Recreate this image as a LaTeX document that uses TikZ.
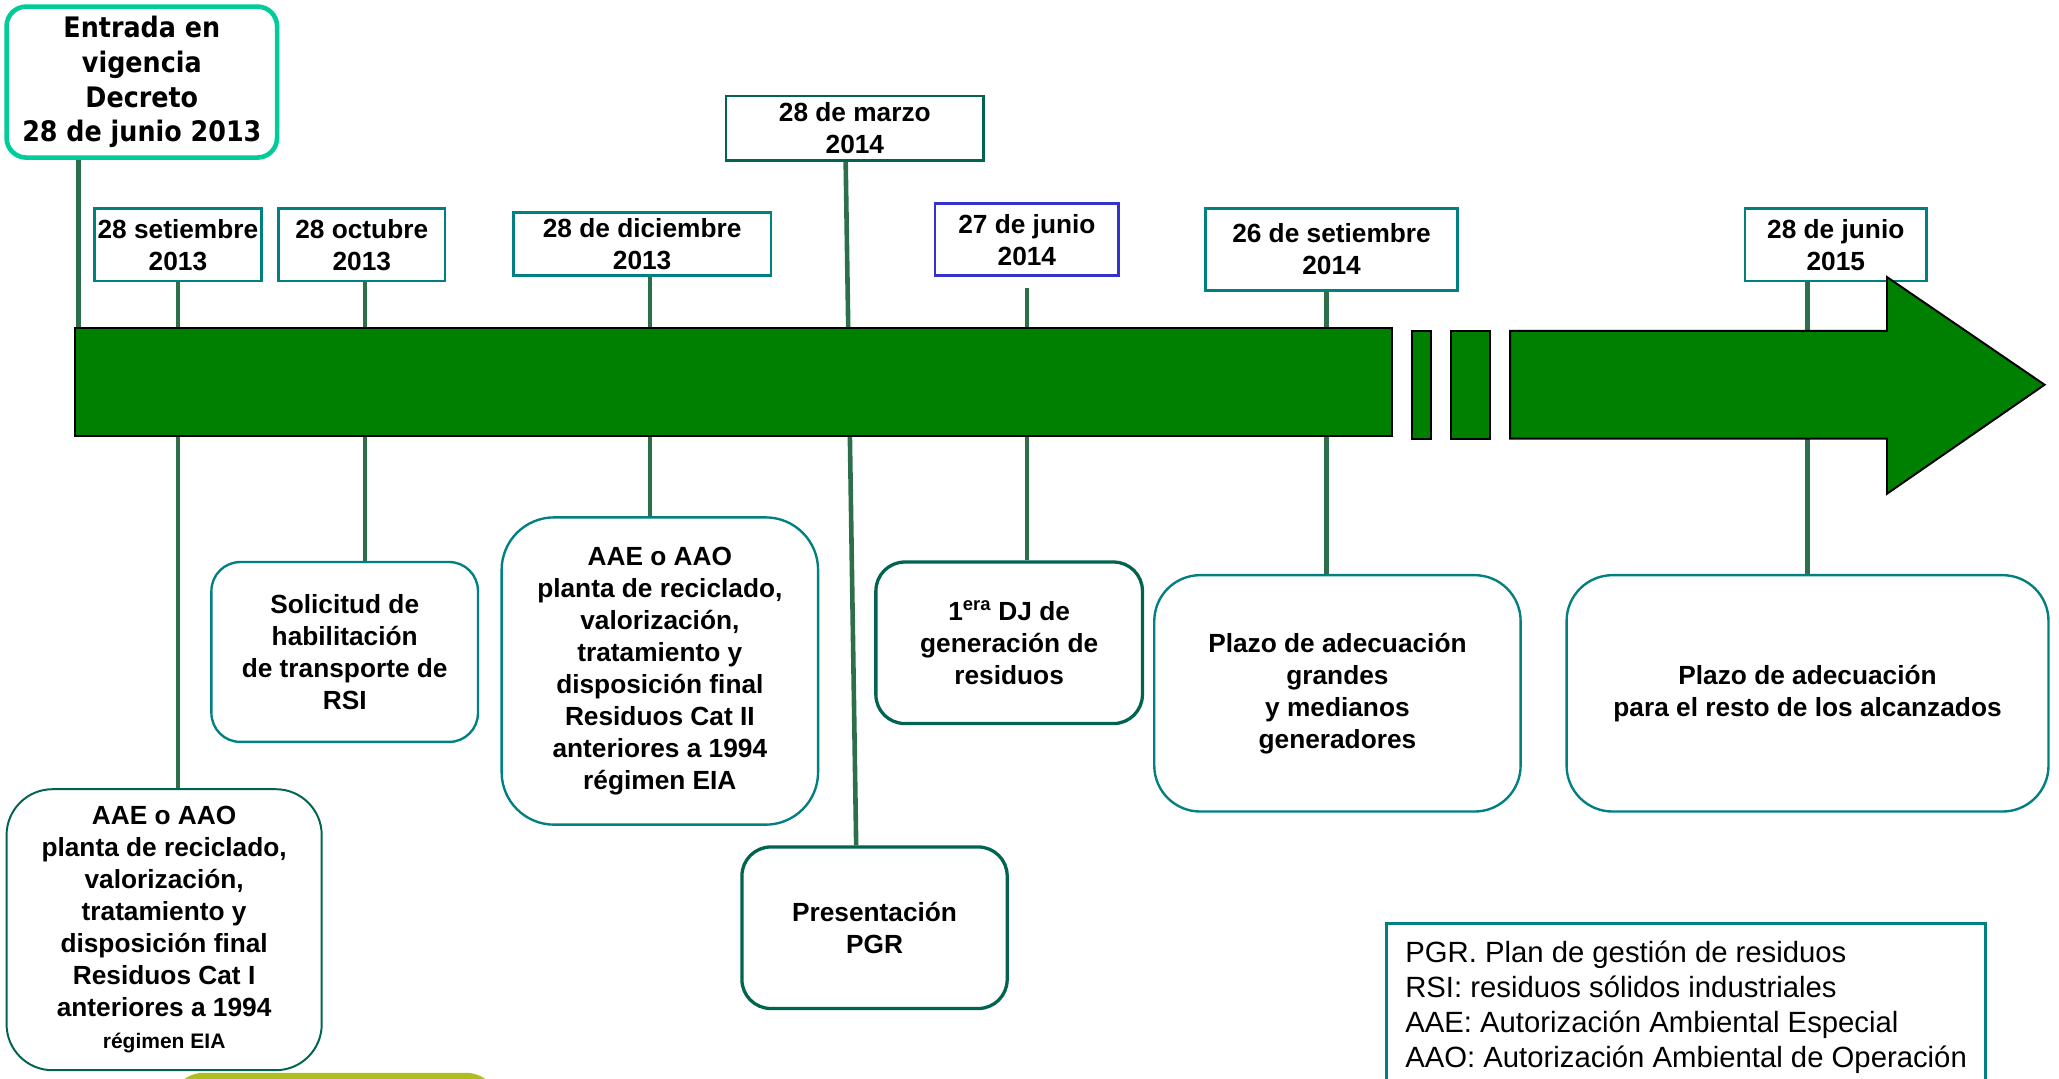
\documentclass[tikz,border=0pt]{standalone}
\usepackage{fontspec}
\setmainfont{Liberation Sans}
\newfontfamily\entfont[FakeStretch=0.9]{DejaVu Sans}
\usepackage{tikz}
\usetikzlibrary{backgrounds}
\definecolor{tealline}{RGB}{0,128,128}
\definecolor{darkteal}{RGB}{0,100,80}
\definecolor{datblue}{RGB}{51,51,204}
\definecolor{entgreen}{RGB}{0,204,153}
\definecolor{tickgreen}{RGB}{45,110,75}
\definecolor{barfill}{RGB}{0,128,0}
\definecolor{olivefill}{RGB}{175,190,30}

\begin{document}
\begin{tikzpicture}[x=1pt,y=-1pt,
    datebox/.style={draw=tealline,line width=2pt,fill=white,inner sep=0pt,align=center,font=\fontsize{20}{24.4}\selectfont\bfseries},
    infobox/.style={draw=tealline,line width=1.8pt,fill=white,inner sep=0pt,rounded corners=30pt,align=center,font=\fontsize{20}{24.4}\selectfont\bfseries},
    tick/.style={draw=tickgreen,line width=3.5pt},
    barpiece/.style={fill=barfill,draw=black,line width=1.5pt}]
    \useasboundingbox (0,0) rectangle (1568,821);
    \clip (0,0) rectangle (1568,821);
    \fill[olivefill,rounded corners=25pt] (130,817) rectangle (380,880);
    \node[datebox,draw=entgreen,line width=3.5pt,rounded corners=15pt,minimum width=206,minimum height=115,font=\fontsize{21.5}{26.5}\selectfont\entfont\bfseries] (ent) at (108,62.5) {Entrada en\\vigencia\\Decreto\\28 de junio 2013};
    \node[datebox,minimum width=127,minimum height=55] (set13) at (135.5,186.5) {28 setiembre\\2013};
    \node[datebox,minimum width=127,minimum height=55] (oct13) at (275.5,186.5) {28 octubre\\2013};
    \node[datebox,minimum width=196,minimum height=48] (dic13) at (489,186) {28 de diciembre\\2013};
    \node[datebox,draw=darkteal,minimum width=196,minimum height=49] (mar14) at (651,97.5) {28 de marzo\\2014};
    \node[datebox,draw=datblue,minimum width=140,minimum height=55] (jun14) at (782,182.5) {27 de junio\\2014};
    \node[datebox,minimum width=192,minimum height=62] (set14) at (1014,190) {26 de setiembre\\2014};
    \node[datebox,minimum width=138,minimum height=55] (jun15) at (1398,186.5) {28 de junio\\2015};
    \node[barpiece,inner sep=0pt,minimum width=1003,minimum height=82] (bar) at (558.5,291) {};
    \draw[barpiece] (1075,252) rectangle (1090,334);
    \draw[barpiece] (1105,252) rectangle (1135,334);
    \draw[barpiece] (1150,252) -- (1437,252) -- (1437,211) -- (1557,293) -- (1437,376) -- (1437,334) -- (1150,334) -- cycle;
    \node[infobox,draw=darkteal,line width=1.5pt,rounded corners=35pt,minimum width=240,minimum height=214] (aae1) at (125,708) {AAE o AAO\\planta de reciclado,\\valorización,\\tratamiento y\\disposición final\\ Residuos Cat I\\anteriores a 1994\\{\fontsize{16}{20}\selectfont régimen EIA}};
    \node[infobox,rounded corners=22pt,minimum width=203,minimum height=137] (sol) at (262.5,496.5) {Solicitud de\\habilitación\\de transporte de\\RSI};
    \node[infobox,rounded corners=40pt,minimum width=241,minimum height=234] (aae2) at (502.5,511) {AAE o AAO\\planta de reciclado,\\valorización,\\tratamiento y\\disposición final\\ Residuos Cat II\\anteriores a 1994\\régimen EIA};
    \node[infobox,draw=darkteal,line width=2.5pt,rounded corners=22pt,minimum width=202,minimum height=123] (pgr) at (666,706.5) {Presentación\\PGR};
    \node[infobox,draw=darkteal,line width=2.5pt,rounded corners=22pt,minimum width=203,minimum height=123] (dj) at (768.5,489.5) {1\textsuperscript{era} DJ de\\generación de\\residuos};
    \node[infobox,rounded corners=35pt,minimum width=279,minimum height=180] (gran) at (1018.5,528) {Plazo de adecuación\\grandes\\y medianos\\generadores};
    \node[infobox,rounded corners=35pt,minimum width=367,minimum height=180] (resto) at (1376.5,528) {Plazo de adecuación\\para el resto de los alcanzados};
    \node[draw=tealline,line width=2.5pt,fill=white,inner xsep=12pt,inner ysep=0pt,minimum width=456,minimum height=127,align=left,font=\fontsize{22.3}{26.5}\selectfont] (legend) at (1284,767) {PGR. Plan de gestión de residuos\\RSI: residuos sólidos industriales\\AAE: Autorización Ambiental Especial\\AAO: Autorización Ambiental de Operación};
    \begin{scope}[on background layer]
        \draw[tick] ([xshift=-48pt]ent.south) -- ([xshift=-48pt]ent.south |- bar.north);
        \draw[tick] (set13.south) -- (set13.south |- aae1.north);
        \draw[tick] ([xshift=2.5pt]oct13.south) -- ([xshift=2.5pt]oct13.south |- sol.north);
        \draw[tick] ([xshift=6pt]dic13.south) -- ([xshift=6pt]dic13.south |- aae2.north);
        \draw[tick] ([xshift=-7pt]mar14.south) -- ([xshift=-14pt]pgr.north);
        \draw[tick] ([yshift=-8pt]jun14.south) -- (jun14.south |- dj.north);
        \draw[tick] ([xshift=-4pt]set14.south) -- ([xshift=-4pt]set14.south |- gran.north);
        \draw[tick] (resto.north |- jun15.south) -- (resto.north);
    \end{scope}
\end{tikzpicture}
\end{document}
